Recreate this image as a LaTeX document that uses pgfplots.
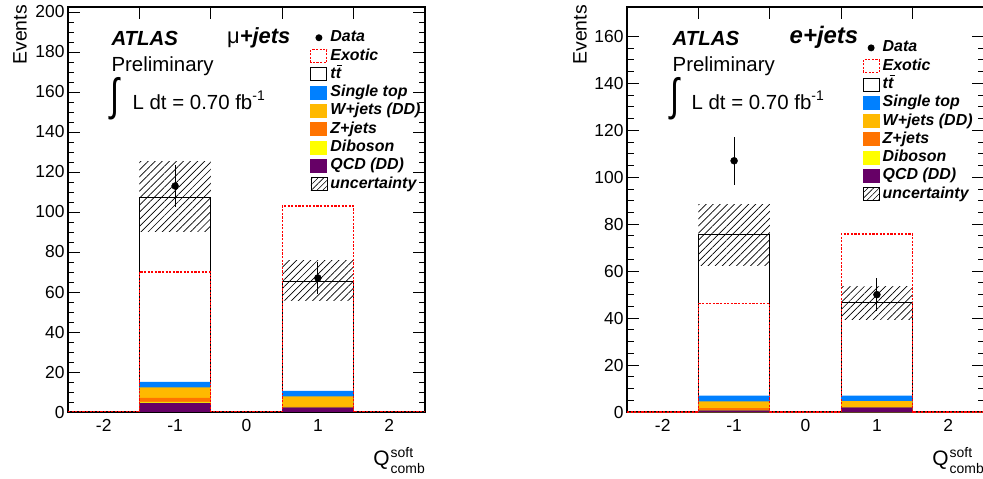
\documentclass[border=0pt]{standalone}
\usepackage{fontspec}
\setmainfont{Liberation Sans}
\usepackage{pgfplots}
\pgfplotsset{compat=1.18}
\usetikzlibrary{patterns.meta}

\definecolor{cST}{RGB}{0,128,255}
\definecolor{cW}{RGB}{255,185,0}
\definecolor{cZ}{RGB}{255,115,0}
\definecolor{cDB}{RGB}{255,255,0}
\definecolor{cQCD}{RGB}{102,0,102}
\definecolor{cEx}{RGB}{255,0,0}

\newcommand{\ttbar}{t\makebox[0pt][l]{\hspace{1.6bp}\raisebox{12bp}{\rule{5bp}{1.1bp}}}t}
\newcommand{\qlabel}{Q\kern1bp\makebox[0pt][l]{\raisebox{8.5bp}{\fontsize{14}{14}\selectfont soft}}\raisebox{-7.5bp}{\fontsize{14}{14}\selectfont comb}}

\pgfplotsset{
 atlasax/.style={
  scale only axis, width=357bp, height=405bp,
  xmin=-2.5, xmax=2.5, ymin=0,
  axis line style={line width=1.1bp},
  every tick/.style={black, line width=0.9bp},
  major tick length=12bp, minor tick length=6.5bp,
  tick align=inside,
  xtick={-1.5,-0.5,0.5,1.5}, xticklabels={},
  extra x ticks={-2,-1,0,1,2},
  extra x tick labels={-2,-1,0,1,2},
  extra x tick style={major tick length=0pt},
  minor y tick num=3,
  tick label style={font=\fontsize{17.5}{18}\selectfont},
  xticklabel style={yshift=-4bp},
  /pgf/number format/assume math mode=true,
  ylabel={Events},
  label style={font=\fontsize{19.5}{20}\selectfont},
  xlabel={\qlabel},
  xlabel style={at={(axis description cs:1,-0.133)}, anchor=base east, inner sep=0pt, font=\fontsize{21}{21}\selectfont},
  legend cell align=left,
  legend style={draw=none, fill=none, anchor=north west,
    font=\fontsize{16}{16}\selectfont\bfseries\itshape,
    row sep=3.3bp, column sep=3bp,
    nodes={inner sep=0pt, text height=11.5bp, text depth=3.5bp}},
 },
 hatch/.style={forget plot, draw=none, pattern={Lines[angle=45,distance=5bp,line width=0.7bp]}, pattern color=black},
 dataplot/.style={forget plot, only marks, mark=*, mark size=3.5bp, black,
   error bars/.cd, y dir=both, y explicit, error mark=none, error bar style={line width=0.9bp}},
 exotic/.style={forget plot, const plot, draw=cEx, line width=1.2bp, dash pattern=on 2.2bp off 1.4bp},
}

\newcommand{\legendblock}{%
 \addlegendimage{draw=none, fill=none, mark=none, legend image code/.code={\path[draw=none,fill=none] (0,-7bp) rectangle (17bp,7bp); \fill[black] (8.5bp,0) circle (3.5bp);}}
 \addlegendentry{Data}
 \addlegendimage{draw=none, fill=none, mark=none, legend image code/.code={\draw[draw=cEx, fill=none, line width=1.1bp, dash pattern=on 2.2bp off 1.4bp] (0.5bp,-6.5bp) rectangle (16.5bp,6.5bp);}}
 \addlegendentry{Exotic}
 \addlegendimage{draw=none, fill=none, mark=none, legend image code/.code={\draw[draw=black, line width=0.9bp, fill=white] (0.5bp,-6.5bp) rectangle (16.5bp,6.5bp);}}
 \addlegendentry{\ttbar}
 \addlegendimage{draw=none, fill=none, mark=none, legend image code/.code={\fill[fill=cST] (0,-7bp) rectangle (17bp,7bp);}}
 \addlegendentry{Single top}
 \addlegendimage{draw=none, fill=none, mark=none, legend image code/.code={\fill[fill=cW] (0,-7bp) rectangle (17bp,7bp);}}
 \addlegendentry{W+jets (DD)}
 \addlegendimage{draw=none, fill=none, mark=none, legend image code/.code={\fill[fill=cZ] (0,-7bp) rectangle (17bp,7bp);}}
 \addlegendentry{Z+jets}
 \addlegendimage{draw=none, fill=none, mark=none, legend image code/.code={\fill[fill=cDB] (0,-7bp) rectangle (17bp,7bp);}}
 \addlegendentry{Diboson}
 \addlegendimage{draw=none, fill=none, mark=none, legend image code/.code={\fill[fill=cQCD] (0,-7bp) rectangle (17bp,7bp);}}
 \addlegendentry{QCD (DD)}
 \addlegendimage{draw=none, fill=none, mark=none, legend image code/.code={\draw[draw=black, line width=0.7bp, pattern={Lines[angle=45,distance=4bp,line width=0.6bp]}, pattern color=black] (0.5bp,-6.5bp) rectangle (16.5bp,6.5bp);}}
 \addlegendentry{uncertainty}
}

\begin{document}
\begin{tikzpicture}
% ---------------- mu+jets ----------------
\begin{axis}[atlasax, at={(0bp,0bp)}, anchor=south west,
  ymax=202.5, ytick={0,20,...,200},
  ylabel style={at={(axis description cs:-0.115,1.005)}, anchor=south east, inner sep=0pt},
  legend style={at={(axis description cs:0.670,0.948)}}]
\legendblock
% stack (cumulative)
\addplot[forget plot, const plot, fill=white, draw=black, line width=0.9bp] coordinates {(-2.5,0) (-1.5,107.5) (-0.5,0) (0.5,65.5) (1.5,0) (2.5,0)} \closedcycle;
\addplot[forget plot, const plot, fill=cST, draw=none] coordinates {(-2.5,0) (-1.5,15.0) (-0.5,0) (0.5,10.6) (1.5,0) (2.5,0)} \closedcycle;
\addplot[forget plot, const plot, fill=cW, draw=none] coordinates {(-2.5,0) (-1.5,12.3) (-0.5,0) (0.5,7.8) (1.5,0) (2.5,0)} \closedcycle;
\addplot[forget plot, const plot, fill=cZ, draw=none] coordinates {(-2.5,0) (-1.5,7.0) (-0.5,0) (0.5,2.6) (1.5,0) (2.5,0)} \closedcycle;
\addplot[forget plot, const plot, fill=cDB, draw=none] coordinates {(-2.5,0) (-1.5,5.0) (-0.5,0) (0.5,2.4) (1.5,0) (2.5,0)} \closedcycle;
\addplot[forget plot, const plot, fill=cQCD, draw=none] coordinates {(-2.5,0) (-1.5,4.6) (-0.5,0) (0.5,2.3) (1.5,0) (2.5,0)} \closedcycle;
% uncertainty
\addplot[hatch] coordinates {(-1.5,90) (-0.5,90) (-0.5,125) (-1.5,125) (-1.5,90)};
\addplot[hatch] coordinates {(0.5,55.5) (1.5,55.5) (1.5,75.5) (0.5,75.5) (0.5,55.5)};
% exotic
\addplot[exotic] coordinates {(-2.5,0) (-1.5,70) (-0.5,0) (0.5,103) (1.5,0) (2.5,0)};
% data
\addplot[dataplot] table[x=x, y=y, y error=e] {
x y e
-1 113 10.6
1 67 8.2
};
\node[anchor=base west, font=\fontsize{20.5}{21}\selectfont\bfseries\itshape] at (axis description cs:0.112,0.906) {ATLAS};
\node[anchor=base west, font=\fontsize{20.5}{21}\selectfont] at (axis description cs:0.112,0.840) {Preliminary};
\node[anchor=center, font=\fontsize{20.5}{21}\selectfont] at (axis description cs:0.132,0.773) {\scalebox{1.6}[2.2]{∫}};
\node[anchor=base west, font=\fontsize{20.5}{21}\selectfont] at (axis description cs:0.171,0.748) {L dt = 0.70 fb\raisebox{9bp}{\fontsize{14}{14}\selectfont -1}};
\node[anchor=base west, font=\fontsize{22}{22}\selectfont] at (axis description cs:0.436,0.911) {μ{\bfseries\itshape +jets}};
\end{axis}
% ---------------- e+jets ----------------
\begin{axis}[atlasax, at={(559bp,0bp)}, anchor=south west,
  ymax=172.5, ytick={0,20,...,160},
  ylabel style={at={(axis description cs:-0.112,1.005)}, anchor=south east, inner sep=0pt},
  legend style={at={(axis description cs:0.651,0.923)}}]
\legendblock
\addplot[forget plot, const plot, fill=white, draw=black, line width=0.9bp] coordinates {(-2.5,0) (-1.5,75.5) (-0.5,0) (0.5,46.5) (1.5,0) (2.5,0)} \closedcycle;
\addplot[forget plot, const plot, fill=cST, draw=none] coordinates {(-2.5,0) (-1.5,7.0) (-0.5,0) (0.5,7.0) (1.5,0) (2.5,0)} \closedcycle;
\addplot[forget plot, const plot, fill=cW, draw=none] coordinates {(-2.5,0) (-1.5,4.5) (-0.5,0) (0.5,4.6) (1.5,0) (2.5,0)} \closedcycle;
\addplot[forget plot, const plot, fill=cZ, draw=none] coordinates {(-2.5,0) (-1.5,1.7) (-0.5,0) (0.5,2.1) (1.5,0) (2.5,0)} \closedcycle;
\addplot[forget plot, const plot, fill=cDB, draw=none] coordinates {(-2.5,0) (-1.5,0.8) (-0.5,0) (0.5,2.05) (1.5,0) (2.5,0)} \closedcycle;
\addplot[forget plot, const plot, fill=cQCD, draw=none] coordinates {(-2.5,0) (-1.5,0.7) (-0.5,0) (0.5,2.0) (1.5,0) (2.5,0)} \closedcycle;
\addplot[hatch] coordinates {(-1.5,62.5) (-0.5,62.5) (-0.5,88.3) (-1.5,88.3) (-1.5,62.5)};
\addplot[hatch] coordinates {(0.5,39.5) (1.5,39.5) (1.5,53.5) (0.5,53.5) (0.5,39.5)};
\addplot[exotic] coordinates {(-2.5,0) (-1.5,46.3) (-0.5,0) (0.5,75.8) (1.5,0) (2.5,0)};
\addplot[dataplot] table[x=x, y=y, y error=e] {
x y e
-1 107 10.3
1 50 7.1
};
\node[anchor=base west, font=\fontsize{20.5}{21}\selectfont\bfseries\itshape] at (axis description cs:0.118,0.906) {ATLAS};
\node[anchor=base west, font=\fontsize{20.5}{21}\selectfont] at (axis description cs:0.118,0.840) {Preliminary};
\node[anchor=center, font=\fontsize{20.5}{21}\selectfont] at (axis description cs:0.134,0.773) {\scalebox{1.6}[2.2]{∫}};
\node[anchor=base west, font=\fontsize{20.5}{21}\selectfont] at (axis description cs:0.171,0.748) {L dt = 0.70 fb\raisebox{9bp}{\fontsize{14}{14}\selectfont -1}};
\node[anchor=base west, font=\fontsize{24}{24}\selectfont\bfseries\itshape] at (axis description cs:0.446,0.911) {e+jets};
\end{axis}
\pgfresetboundingbox
\path[use as bounding box] (-68bp,-67bp) rectangle (915bp,412bp);
\end{tikzpicture}
\end{document}
